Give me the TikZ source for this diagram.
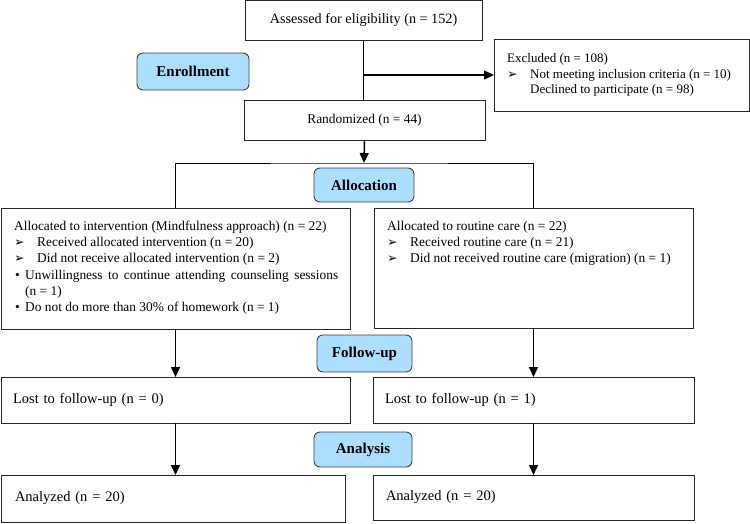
\documentclass[tikz,border=0pt]{standalone}
\usepackage{fontspec}
\setmainfont{Liberation Serif}
\newfontfamily\symfont{DejaVu Sans}
\usetikzlibrary{arrows.meta}
\definecolor{stageblue}{RGB}{171,222,255}
\newcommand{\pointer}{\makebox[23pt][l]{{\symfont\fontsize{12.5}{12}\selectfont ➢}}}
\newcommand{\dotitem}{\makebox[11pt][l]{\hspace{1pt}\textbullet}}
\begin{document}
\begin{tikzpicture}[x=1pt,y=-1pt,
  font=\fontsize{13.4}{16.3}\selectfont,
  box/.style={draw=black!85,line width=1pt,inner sep=0pt,outer sep=0pt},
  leftbox/.style={box,align=left,inner xsep=12pt,font=\fontsize{14.5}{16.3}\selectfont},
  stage/.style={draw=black!75,line width=0.9pt,fill=stageblue,rounded corners=6pt,
                inner sep=0pt,font=\fontsize{15}{17}\selectfont\bfseries},
  txt/.style={inner sep=0pt,align=left},
  flow/.style={line width=1.5pt,-{Triangle[length=10pt,width=9pt]}}]
\useasboundingbox (0,0) rectangle (750,523);
% enrollment
\node[box,minimum width=237pt,minimum height=40pt,font=\fontsize{14.2}{16}\selectfont]
  (assess) at (363.5,20.5) {Assessed for eligibility (n = 152)};
\node[stage,minimum width=112pt,minimum height=37pt] (enroll) at (193,71.5) {Enrollment};
\node[box,minimum width=255pt,minimum height=72pt] (excl) at (621.5,75) {};
\node[txt,anchor=west,font=\fontsize{13}{15.6}\selectfont] (exclt) at ([xshift=13pt]excl.west)
  {Excluded (n = 108)\\
   \pointer Not meeting inclusion criteria (n = 10)\\
   \hspace*{23pt}Declined to participate (n = 98)};
\node[box,minimum width=241pt,minimum height=40pt] (rand) at (364.5,120) {Randomized (n = 44)};
\coordinate (exc) at (assess.south |- excl.west);
\coordinate (split) at (364,163);
\draw[line width=1pt] (assess.south) -- (assess.south |- rand.north);
\draw[flow] (exc) -- (excl.west);
\draw[flow] (rand.south) -- (split);
% allocation
\node[stage,minimum width=100pt,minimum height=34pt] (alloc) at (364,185) {Allocation};
\node[box,minimum width=349pt,minimum height=121pt] (allocL) at (175.5,268.5) {};
\node[box,minimum width=319pt,minimum height=120pt] (allocR) at (533.5,268) {};
\node[txt,anchor=north west] (allocLt) at ([shift={(13,12.5)}]allocL.north west)
  {Allocated to intervention (Mindfulness approach) (n = 22)\\
   \pointer Received allocated intervention (n = 20)\\
   \pointer Did not receive allocated intervention (n = 2)\\
   \dotitem\makebox[313pt][s]{Unwillingness to continue attending counseling sessions}\\
   \hspace*{11pt}(n = 1)\\
   \dotitem Do not do more than 30\% of homework (n = 1)};
\node[txt,anchor=north west] (allocRt) at ([shift={(13,12.5)}]allocR.north west)
  {Allocated to routine care (n = 22)\\
   \pointer Received routine care (n = 21)\\
   \pointer Did not received routine care (migration) (n = 1)};
\draw[line width=1pt] (allocL.north) |- (split) -| (allocR.north);
% follow-up
\node[stage,minimum width=95pt,minimum height=37pt] (follow) at (364.5,353.5) {Follow-up};
\node[leftbox,minimum height=46pt,text width=325pt] (lostL) at (175.5,400)
  {Lost to follow-up (n = 0)};
\node[leftbox,minimum height=46pt,text width=297pt] (lostR) at (533.5,400)
  {Lost to follow-up (n = 1)};
\draw[flow] (allocL.south) -- (lostL.north);
\draw[flow] (allocR.south) -- (lostR.north);
% analysis
\node[stage,minimum width=98pt,minimum height=35pt] (analysis) at (363,449.5) {Analysis};
\node[leftbox,minimum height=47pt,text width=316pt,inner xsep=14pt] (anaL) at (173,498.5)
  {Analyzed (n = 20)};
\node[leftbox,minimum height=45pt,text width=295pt,inner xsep=13pt] (anaR) at (533.5,497.5)
  {Analyzed (n = 20)};
\draw[flow] (lostL.south) -- (lostL.south |- anaL.north);
\draw[flow] (lostR.south) -- (anaR.north);
\end{tikzpicture}
\end{document}
